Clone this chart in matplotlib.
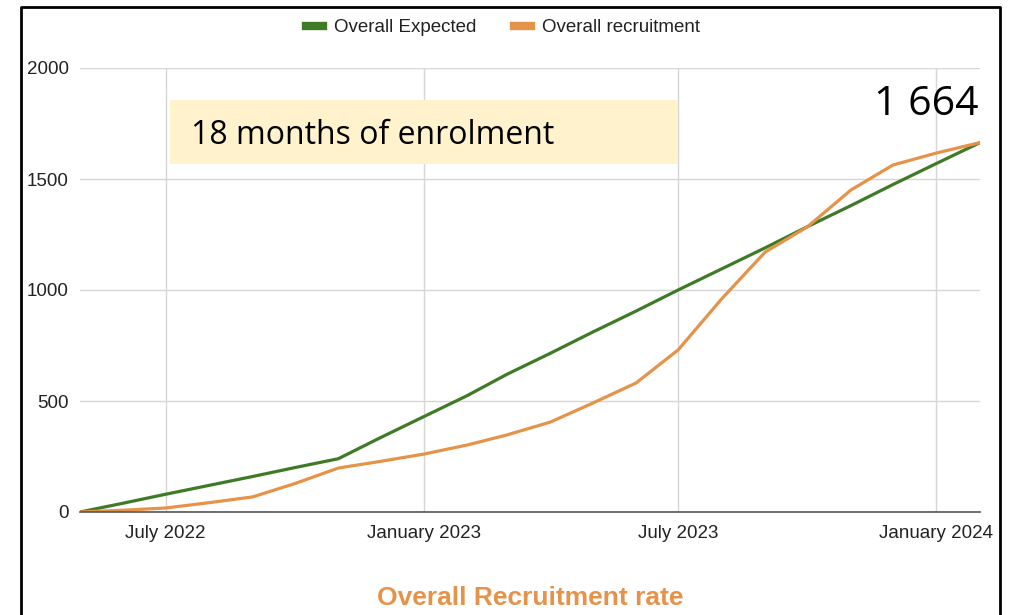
import matplotlib.pyplot as plt
import pandas as pd

months = pd.date_range('2022-05-01', '2024-02-01', freq='MS')
expected = [0, 40, 80, 120, 160, 200, 240, 335, 430, 525, 620, 715, 810, 905,
            1000, 1095, 1190, 1285, 1380, 1475, 1570, 1664]
recruitment = [0, 8, 18, 42, 68, 128, 198, 228, 261, 302, 347, 405, 490, 581,
               730, 960, 1171, 1284, 1450, 1563, 1617, 1664]
tick_dates = pd.to_datetime(['2022-07-01', '2023-01-01', '2023-07-01', '2024-01-01'])
tick_labels = ['July 2022', 'January 2023', 'July 2023', 'January 2024']

green = '#3f7a26'
orange = '#e6934a'

plt.rcParams['font.family'] = ['Liberation Sans', 'DejaVu Sans']

fig = plt.figure(figsize=(10.15, 6.15), dpi=100)
ax = fig.add_axes([80/1015, 103/615, 900/1015, 444/615])

ax.plot(months, expected, color=green, linewidth=2.3, label='Overall Expected')
ax.plot(months, recruitment, color=orange, linewidth=2.3, label='Overall recruitment')

ax.set_xlim(months[0], months[-1])
ax.set_ylim(0, 2000)
ax.set_yticks([0, 500, 1000, 1500, 2000])
ax.set_xticks(tick_dates)
ax.set_xticklabels(tick_labels)
ax.tick_params(length=0, labelsize=13.5, colors='#222222')
ax.tick_params(axis='y', pad=8)
ax.tick_params(axis='x', pad=9.5)
ax.grid(True, color='#d6d6d6', linewidth=1)
for s in ['top', 'right', 'left']:
    ax.spines[s].set_visible(False)
ax.spines['bottom'].set_color('#555555')
ax.spines['bottom'].set_linewidth(1.2)
ax.set_axisbelow(True)

leg = fig.legend(loc='center', bbox_to_anchor=(503/1015, 1 - 27/615), ncol=2,
                 frameon=False, fontsize=13.5, handlelength=0.9, handleheight=0.5,
                 columnspacing=2.0, handletextpad=0.6)
for h in leg.legend_handles:
    h.set_linewidth(6)
for t in leg.get_texts():
    t.set_color('#222222')

# highlight box
fig.patches.append(plt.Rectangle((170/1015, 1 - 164/615), 508/1015, 64/615,
                                 transform=fig.transFigure, facecolor='#fff2cc',
                                 edgecolor='none', zorder=5))
fig.text(191/1015, 1 - 135/615, '18 months of enrolment', fontsize=23,
         family='Open Sans', va='center', ha='left', zorder=6)
fig.text(979/1015, 1 - 105/615, '1 664', fontsize=29.5, family='Open Sans',
         va='center', ha='right')

fig.text(530/1015, 1 - 598/615, 'Overall Recruitment rate', fontsize=19,
         fontweight='bold', color=orange, ha='center', va='center')

# outer frame
fig.add_artist(plt.Line2D([21/1015, 21/1015, 1000/1015, 1000/1015],
                          [0, 1 - 7/615, 1 - 7/615, 0], transform=fig.transFigure,
                          color='black', linewidth=2))

fig.savefig('out.png', dpi=100)
